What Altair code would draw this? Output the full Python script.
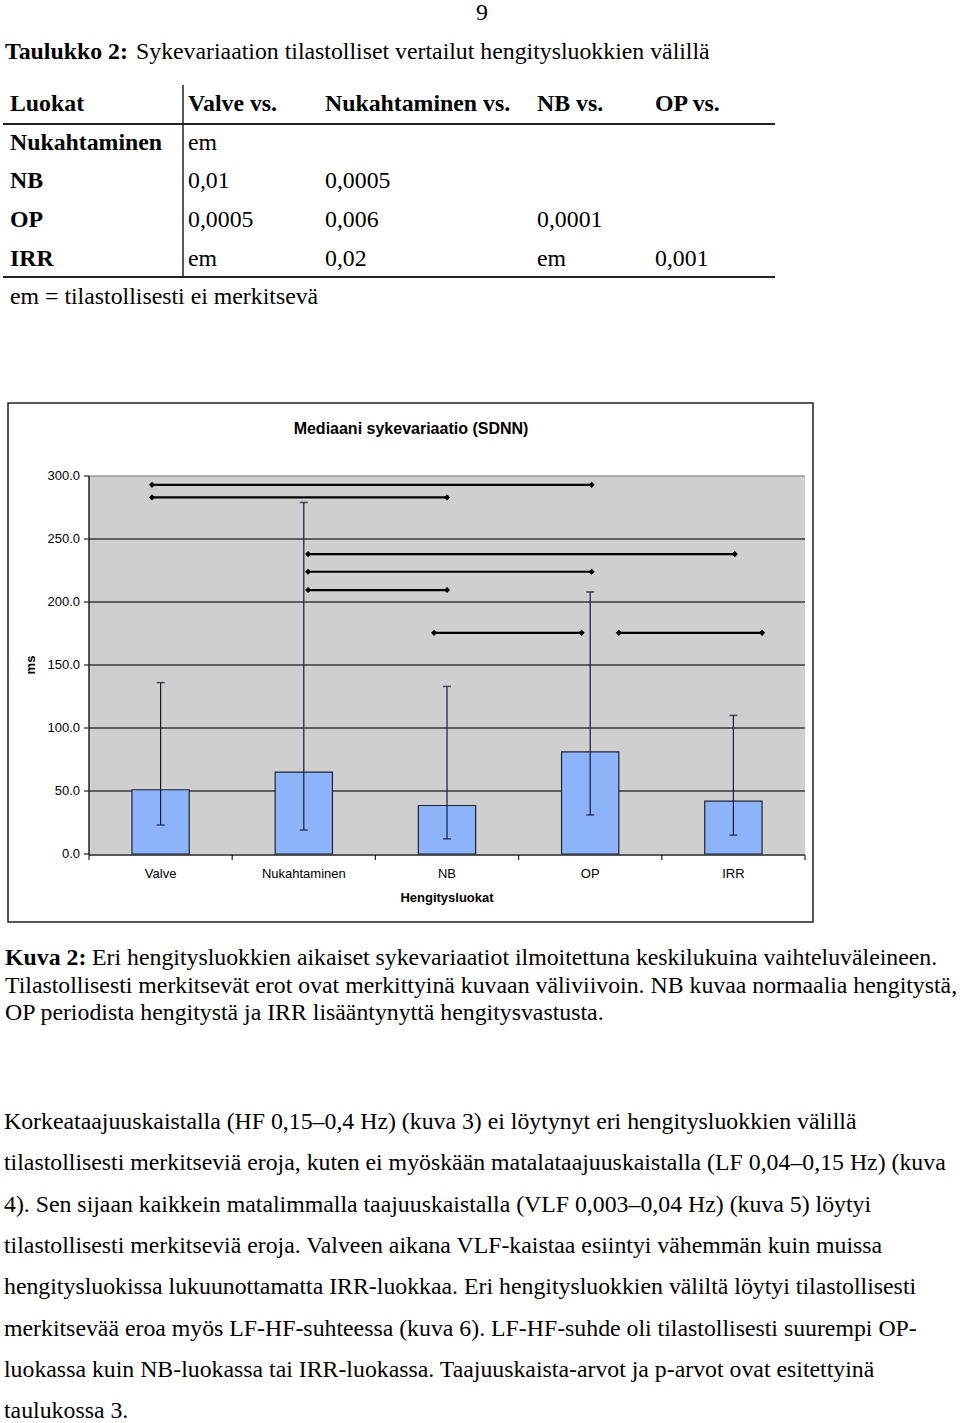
import altair as alt
import pandas as pd

# ---------------- data ----------------
categories = ["Valve", "Nukahtaminen", "NB", "OP", "IRR"]
medians = [51.0, 65.0, 38.5, 81.0, 42.0]
lows = [23.0, 19.0, 12.0, 31.0, 15.0]
highs = [136.0, 279.0, 133.0, 208.0, 110.0]

# significance brackets (positions in category units, 0..5; centre of category i = i + 0.5)
sig_start = [0.44, 0.44, 1.53, 1.53, 1.53, 2.41, 3.70]
sig_end = [3.51, 2.50, 4.51, 3.51, 2.50, 3.44, 4.70]
sig_level = [293.0, 283.0, 238.0, 224.0, 209.5, 175.5, 175.5]

y_ticks = [0, 50, 100, 150, 200, 250, 300]

page_number = "9"
table_title_bold = "Taulukko 2:"
table_title_rest = "Sykevariaation tilastolliset vertailut hengitysluokkien välillä"
table_cols = ["Luokat", "Valve vs.", "Nukahtaminen vs.", "NB vs.", "OP vs."]
table_rows = ["Nukahtaminen", "NB", "OP", "IRR"]
table_vals = [
    ["em", "", "", ""],
    ["0,01", "0,0005", "", ""],
    ["0,0005", "0,006", "0,0001", ""],
    ["em", "0,02", "em", "0,001"],
]
table_note = "em = tilastollisesti ei merkitsevä"

chart_title = "Mediaani sykevariaatio (SDNN)"
y_title = "ms"
x_title = "Hengitysluokat"

caption_bold = "Kuva 2:"
caption_lines = [
    "Eri hengitysluokkien aikaiset sykevariaatiot ilmoitettuna keskilukuina vaihteluväleineen.",
    "Tilastollisesti merkitsevät erot ovat merkittyinä kuvaan väliviivoin. NB kuvaa normaalia hengitystä,",
    "OP periodista hengitystä ja IRR lisääntynyttä hengitysvastusta.",
]
paragraph_lines = [
    "Korkeataajuuskaistalla (HF 0,15–0,4 Hz) (kuva 3) ei löytynyt eri hengitysluokkien välillä",
    "tilastollisesti merkitseviä eroja, kuten ei myöskään matalataajuuskaistalla (LF 0,04–0,15 Hz) (kuva",
    "4). Sen sijaan kaikkein matalimmalla taajuuskaistalla (VLF 0,003–0,04 Hz) (kuva 5) löytyi",
    "tilastollisesti merkitseviä eroja. Valveen aikana VLF-kaistaa esiintyi vähemmän kuin muissa",
    "hengitysluokissa lukuunottamatta IRR-luokkaa. Eri hengitysluokkien väliltä löytyi tilastollisesti",
    "merkitsevää eroa myös LF-HF-suhteessa (kuva 6). LF-HF-suhde oli tilastollisesti suurempi OP-",
    "luokassa kuin NB-luokassa tai IRR-luokassa. Taajuuskaista-arvot ja p-arvot ovat esitettyinä",
    "taulukossa 3.",
]

# ---------------- layout / style ----------------
SERIF = "Liberation Serif"
SANS = "Liberation Sans"
FS = 23.8
PLOT_L, PLOT_R, PLOT_T, PLOT_B = 89, 805, 476, 854
BAR_FILL = "#8db4fb"
BAR_STROKE = "#1c2333"
GRID = "#3a3a3a"
BG = "#cfcfcf"

x_band = alt.Scale(domain=categories, range=[PLOT_L, PLOT_R], paddingInner=0, paddingOuter=0)
x_lin = alt.Scale(domain=[0, len(categories)], range=[PLOT_L, PLOT_R])
y_scale = alt.Scale(domain=[0, 300], range=[PLOT_B, PLOT_T])


def px_text(rows, font, size, weight="normal", align="left", color="black", angle=0):
    df = pd.DataFrame(rows, columns=["t", "px", "py"])
    return alt.Chart(df).mark_text(
        font=font, fontSize=size, fontWeight=weight, align=align,
        baseline="middle", color=color, angle=angle,
    ).encode(
        x=alt.X("px:Q", scale=None),
        y=alt.Y("py:Q", scale=None),
        text="t:N",
    )


def px_rules(rows, color, width):
    df = pd.DataFrame(rows, columns=["x1", "x2", "y1", "y2"])
    return alt.Chart(df).mark_rule(color=color, strokeWidth=width).encode(
        x=alt.X("x1:Q", scale=None), x2="x2:Q",
        y=alt.Y("y1:Q", scale=None), y2="y2:Q",
    )


def px_rect(x1, x2, y1, y2, fill, stroke=None, sw=0):
    df = pd.DataFrame({"x1": [x1], "x2": [x2], "y1": [y1], "y2": [y2]})
    kw = dict(fill=fill)
    if stroke:
        kw.update(stroke=stroke, strokeWidth=sw)
    return alt.Chart(df).mark_rect(**kw).encode(
        x=alt.X("x1:Q", scale=None), x2="x2:Q",
        y=alt.Y("y1:Q", scale=None), y2="y2:Q",
    )


layers = []

# ---------- page text: header & table ----------
layers.append(px_text([(page_number, 482, 13)], SERIF, FS, align="center"))
layers.append(px_text([(table_title_bold, 5, 52)], SERIF, FS, weight="bold"))
layers.append(px_text([(table_title_rest, 136, 52)], SERIF, FS))

col_x = [10, 188, 325, 537, 655]
row_y = [143, 181, 220, 259]
header_y = 104
layers.append(px_text([(c, col_x[i], header_y) for i, c in enumerate(table_cols)], SERIF, FS, weight="bold"))
layers.append(px_text([(r, col_x[0], row_y[i]) for i, r in enumerate(table_rows)], SERIF, FS, weight="bold"))
cells = []
for i, row in enumerate(table_vals):
    for j, v in enumerate(row):
        if v:
            cells.append((v, col_x[j + 1], row_y[i]))
layers.append(px_text(cells, SERIF, FS))
layers.append(px_text([(table_note, col_x[0], 297)], SERIF, FS))
layers.append(px_rules([(3, 775, 124, 124), (3, 775, 277, 277)], "#222222", 2))
layers.append(px_rules([(183, 183, 85, 277)], "#222222", 1.5))

# ---------- chart frame ----------
layers.append(px_rect(8, 813, 403, 922, "white", "#222222", 1.5))
layers.append(px_rect(PLOT_L, PLOT_R, PLOT_T, PLOT_B, BG))

base_cat = pd.DataFrame({"cat": categories, "median": medians, "low": lows, "high": highs})
ticks_df = pd.DataFrame({"v": y_ticks, "lab": [f"{v:.1f}" for v in y_ticks]})

# gridlines
layers.append(
    alt.Chart(ticks_df[(ticks_df.v > 0) & (ticks_df.v < 300)]).mark_rule(color=GRID, strokeWidth=1.5).encode(
        y=alt.Y("v:Q", scale=y_scale, axis=None), x=alt.value(PLOT_L), x2=alt.value(PLOT_R)
    )
)
layers.append(
    alt.Chart(ticks_df[ticks_df.v == 300]).mark_rule(color="#9a9a9a", strokeWidth=1.5).encode(
        y=alt.Y("v:Q", scale=y_scale, axis=None), x=alt.value(PLOT_L), x2=alt.value(PLOT_R)
    )
)

# bars
layers.append(
    alt.Chart(base_cat).mark_bar(
        width=alt.RelativeBandSize(0.4), fill=BAR_FILL, stroke=BAR_STROKE, strokeWidth=1.2
    ).encode(
        x=alt.X("cat:N", scale=x_band, sort=categories, axis=None),
        y=alt.Y("median:Q", scale=y_scale, axis=None),
    )
)
# error bars
layers.append(
    alt.Chart(base_cat).mark_rule(color="#1a1a2e", strokeWidth=1.2).encode(
        x=alt.X("cat:N", scale=x_band, sort=categories, axis=None),
        y=alt.Y("low:Q", scale=y_scale, axis=None), y2="high:Q",
    )
)
for fld in ["low", "high"]:
    layers.append(
        alt.Chart(base_cat).mark_tick(color="#1a1a2e", size=8, thickness=1.6, orient="horizontal").encode(
            x=alt.X("cat:N", scale=x_band, sort=categories, axis=None),
            y=alt.Y(f"{fld}:Q", scale=y_scale, axis=None),
        )
    )

# significance brackets
sig_df = pd.DataFrame({"s": sig_start, "e": sig_end, "lvl": sig_level})
layers.append(
    alt.Chart(sig_df).mark_rule(color="black", strokeWidth=2.2).encode(
        x=alt.X("s:Q", scale=x_lin, axis=None), x2="e:Q",
        y=alt.Y("lvl:Q", scale=y_scale, axis=None),
    )
)
ends_df = pd.DataFrame({"pos": sig_start + sig_end, "lvl": sig_level + sig_level})
layers.append(
    alt.Chart(ends_df).mark_point(shape="diamond", filled=True, color="black", size=38, opacity=1).encode(
        x=alt.X("pos:Q", scale=x_lin, axis=None),
        y=alt.Y("lvl:Q", scale=y_scale, axis=None),
    )
)

# y axis
layers.append(px_rules([(PLOT_L, PLOT_L, PLOT_T, PLOT_B + 1)], "#222222", 1.5))
layers.append(
    alt.Chart(ticks_df).mark_rule(color="#222222", strokeWidth=1.2).encode(
        y=alt.Y("v:Q", scale=y_scale, axis=None), x=alt.value(PLOT_L - 5), x2=alt.value(PLOT_L)
    )
)
layers.append(
    alt.Chart(ticks_df).mark_text(font=SANS, fontSize=13, align="right", baseline="middle", color="black").encode(
        y=alt.Y("v:Q", scale=y_scale, axis=None), x=alt.value(PLOT_L - 9), text="lab:N"
    )
)
# x axis
layers.append(px_rules([(PLOT_L, PLOT_R, PLOT_B + 1, PLOT_B + 1)], "#222222", 1.5))
bounds_df = pd.DataFrame({"b": list(range(len(categories) + 1))})
layers.append(
    alt.Chart(bounds_df).mark_rule(color="#222222", strokeWidth=1.2).encode(
        x=alt.X("b:Q", scale=x_lin, axis=None), y=alt.value(PLOT_B + 1), y2=alt.value(PLOT_B + 6)
    )
)
layers.append(
    alt.Chart(base_cat).mark_text(font=SANS, fontSize=13, baseline="middle", color="black").encode(
        x=alt.X("cat:N", scale=x_band, sort=categories, axis=None), y=alt.value(874), text="cat:N"
    )
)

# chart titles
layers.append(px_text([(chart_title, 411, 429)], SANS, 16, weight="bold", align="center"))
layers.append(px_text([(x_title, 447, 898)], SANS, 13, weight="bold", align="center"))
layers.append(px_text([(y_title, 31, 665)], SANS, 13, weight="bold", align="center", angle=270))

# ---------- caption ----------
cap_y0, cap_dy = 958, 27.5
layers.append(px_text([(caption_bold, 5, cap_y0)], SERIF, FS, weight="bold"))
layers.append(px_text(
    [(caption_lines[0], 92, cap_y0)] + [(t, 5, cap_y0 + cap_dy * (i + 1)) for i, t in enumerate(caption_lines[1:])],
    SERIF, FS,
))

# ---------- paragraph ----------
par_y0, par_dy = 1122, 41.3
layers.append(px_text([(t, 4, par_y0 + par_dy * i) for i, t in enumerate(paragraph_lines)], SERIF, FS))

chart = alt.layer(*layers).resolve_scale(x="independent", y="independent").properties(
    width=960, height=1423, padding=0, autosize=alt.AutoSizeParams(type="none"), background="white"
).configure_view(stroke=None)

chart.save("out.html", embed_options={"renderer": "svg", "actions": False})
